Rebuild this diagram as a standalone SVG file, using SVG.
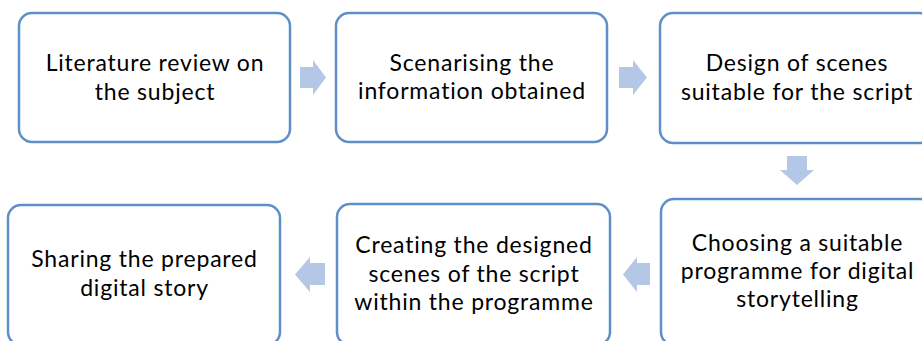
<svg xmlns="http://www.w3.org/2000/svg" width="922" height="341" viewBox="0 0 922 341">
<style>
.box{fill:#fff;stroke:#5E8FC6;stroke-width:2.5}
.t{font-family:Lato,"Open Sans",sans-serif;font-size:23px;letter-spacing:0.8px;fill:#000;text-anchor:middle}
.arr{fill:#B4C7E7}
</style>
<rect width="922" height="341" fill="#fff"/>
<g id="connectors">
<path class="arr" d="M300,67 H313 V60 L326,77.5 L313,95 V88 H300 Z"/>
<path class="arr" d="M619,67 H633 V60 L647,77.5 L633,95 V88 H619 Z"/>
<path class="arr" d="M787,156 H807 V170 H814 L797,185 L780,170 H787 Z"/>
<path class="arr" d="M650,263 H637 V257 L623,274.5 L637,292 V285 H650 Z"/>
<path class="arr" d="M325,263 H310 V257 L295,274.5 L310,292 V285 H325 Z"/>
</g>
<g id="n1"><rect class="box" x="19" y="13" width="271" height="129" rx="13"/>
<text class="t" x="155" y="71">Literature review on</text><text class="t" x="155" y="100">the subject</text></g>
<g id="n2"><rect class="box" x="336" y="13" width="271" height="129" rx="13"/>
<text class="t" x="472" y="71">Scenarising the</text><text class="t" x="472" y="99">information obtained</text></g>
<g id="n3"><rect class="box" x="660" y="13" width="272" height="130" rx="13"/>
<text class="t" x="797" y="71">Design of scenes</text><text class="t" x="797" y="100">suitable for the script</text></g>
<g id="n4"><rect class="box" x="661" y="199" width="272" height="146" rx="13"/>
<text class="t" x="797.5" y="251">Choosing a suitable</text><text class="t" x="797.5" y="279">programme for digital</text><text class="t" x="797.5" y="307">storytelling</text></g>
<g id="n5"><rect class="box" x="337" y="204" width="273" height="141" rx="13"/>
<text class="t" x="474" y="253">Creating the designed</text><text class="t" x="474" y="281.5">scenes of the script</text><text class="t" x="474" y="310">within the programme</text></g>
<g id="n6"><rect class="box" x="8" y="205" width="272" height="140" rx="13"/>
<text class="t" x="144.5" y="267">Sharing the prepared</text><text class="t" x="144.5" y="296">digital story</text></g>
</svg>
